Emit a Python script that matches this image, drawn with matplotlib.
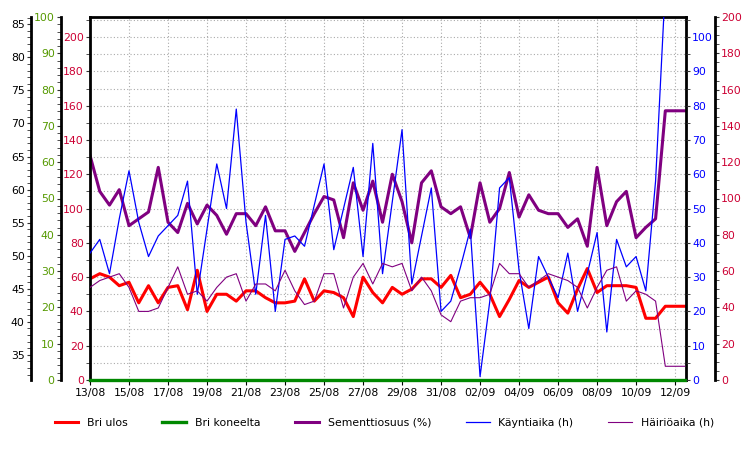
import matplotlib
matplotlib.use("Agg")
import matplotlib.pyplot as plt
from matplotlib.ticker import MultipleLocator

_CRIMSON = "#cc0033"
_BLUE = "#0000ff"
_GREEN = "#008800"
_PURPLE = "#800080"
_RED = "#ff0000"

DATE_LABELS = ["13/08", "15/08", "17/08", "19/08", "21/08", "23/08", "25/08", "27/08",
               "29/08", "31/08", "02/09", "04/09", "06/09", "08/09", "10/09", "12/09"]

# half-day samples, day offsets from 13/08
SEMENTTI = [131, 110, 102, 111, 90, 94, 98, 124, 92, 86, 103, 91, 102, 96, 85, 97, 97, 90, 101, 87,
            87, 75, 86, 97, 107, 105, 83, 115, 99, 116, 92, 120, 104, 80, 115, 122, 101, 97, 101, 83,
            115, 92, 100, 121, 95, 108, 99, 97, 97, 89, 94, 78, 124, 90, 104, 110, 83, 89, 94, 157,
            157, 157]
BRI_ULOS = [59, 62, 60, 55, 57, 45, 55, 45, 54, 55, 41, 64, 40, 50, 50, 46, 52, 52, 48, 45,
            45, 46, 59, 46, 52, 51, 48, 37, 60, 51, 45, 54, 50, 53, 59, 59, 54, 61, 48, 50,
            57, 50, 37, 47, 58, 54, 57, 60, 45, 39, 53, 65, 51, 55, 55, 55, 54, 36, 36, 43,
            43, 43]
BRI_KONEELTA = [0] * 62
KAYNTIAIKA = [37, 41, 31, 47, 61, 46, 36, 42, 45, 48, 58, 25, 44, 63, 50, 79, 46, 25, 48, 20,
              41, 42, 39, 51, 63, 38, 50, 62, 36, 69, 31, 52, 73, 28, 42, 56, 20, 23, 33, 44,
              1, 23, 56, 59, 32, 15, 36, 30, 24, 37, 20, 31, 43, 14, 41, 33, 36, 26, 58, 115,
              115, 115]
HAIRIOAIKA = [27, 29, 30, 31, 27, 20, 20, 21, 27, 33, 25, 26, 23, 27, 30, 31, 23, 28, 28, 26,
              32, 26, 22, 23, 31, 31, 21, 30, 34, 28, 34, 33, 34, 26, 30, 26, 19, 17, 23, 24,
              24, 25, 34, 31, 31, 27, 29, 31, 30, 29, 27, 21, 27, 32, 33, 23, 26, 25, 23, 4,
              4, 4]
DAYS = [i * 0.5 for i in range(len(SEMENTTI))]

FS = 7.8

fig = plt.figure(figsize=(7.46, 4.49), dpi=100)
ax = fig.add_axes([90 / 746, 1 - 380 / 449, 596 / 746, 363 / 449])
axb = ax.twinx()

ax.set_xlim(0, 30.56)
ax.set_ylim(0, 211.7)
axb.set_ylim(0, 105.85)

ax.plot(DAYS, BRI_KONEELTA, color=_GREEN, lw=2.4, zorder=3, clip_on=False, label="Bri koneelta")
ax.plot(DAYS, BRI_ULOS, color=_RED, lw=2.2, label="Bri ulos")
ax.plot(DAYS, SEMENTTI, color=_PURPLE, lw=2.2, label="Sementtiosuus (%)")
axb.plot(DAYS, KAYNTIAIKA, color=_BLUE, lw=0.9, label="Käyntiaika (h)")
axb.plot(DAYS, HAIRIOAIKA, color=_PURPLE, lw=0.8, label="Häiriöaika (h)")

ax.set_xticks(range(0, 31, 2))
ax.set_xticklabels(DATE_LABELS, fontsize=FS)
ax.yaxis.set_major_locator(MultipleLocator(20))
ax.yaxis.set_minor_locator(MultipleLocator(10))
ax.grid(True, which="both", color="#aaaaaa", linestyle=(0, (1, 2)), linewidth=0.8)
ax.tick_params(axis="y", which="both", labelsize=FS, labelcolor=_CRIMSON, color="#333333",
               pad=1.5, length=3)
ax.tick_params(axis="x", labelsize=FS, pad=2)
for s in ax.spines.values():
    s.set_linewidth(2)
axb.yaxis.set_major_locator(MultipleLocator(10))
axb.yaxis.set_minor_locator(MultipleLocator(5))
axb.tick_params(axis="y", which="both", labelcolor=_BLUE, labelsize=FS, color="#333333",
                pad=1.5, length=3)
for s in axb.spines.values():
    s.set_visible(False)


def extra_axis(side, offset_px, lo, hi, step, color, minor):
    a = ax.twinx()
    a.set_ylim(lo, hi)
    for name, s in a.spines.items():
        s.set_visible(name == side)
    a.spines[side].set_position(("outward", offset_px * 0.72))
    a.spines[side].set_linewidth(2)
    a.yaxis.set_ticks_position(side)
    a.yaxis.set_label_position(side)
    a.yaxis.set_major_locator(MultipleLocator(step))
    a.yaxis.set_minor_locator(MultipleLocator(minor))
    a.tick_params(axis="y", which="both", labelcolor=color, labelsize=FS, color="#333333",
                  pad=1.5, length=3)
    return a


extra_axis("left", 29, 0, 100, 10, "#559900", 2)
extra_axis("left", 59, 31.2, 86.1, 5, "#000000", 1)
extra_axis("right", 29, 0, 200, 20, _CRIMSON, 5)

h1, l1 = ax.get_legend_handles_labels()
h2, l2 = axb.get_legend_handles_labels()
order = [1, 0, 2]
handles = [h1[i] for i in order] + h2
labels = [l1[i] for i in order] + l2
fig.legend(handles, labels, loc="center", bbox_to_anchor=(0.515, 0.058), ncol=5,
           frameon=False, fontsize=FS, handlelength=2.2, columnspacing=3.2)

fig.savefig("out.png", facecolor="white")
